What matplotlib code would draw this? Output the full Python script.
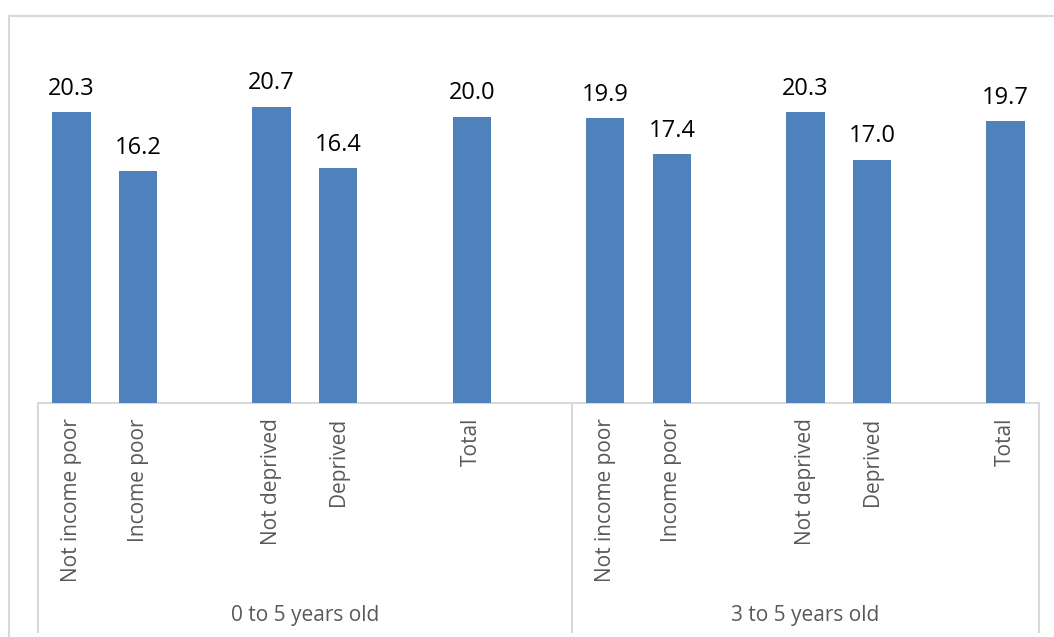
import numpy as np
import matplotlib
matplotlib.use("Agg")
import matplotlib.pyplot as plt
from matplotlib.lines import Line2D
import matplotlib.transforms as mtransforms

plt.rcParams['font.family'] = ['Open Sans', 'DejaVu Sans']

# ---- data ----
group_names = ["0 to 5 years old", "3 to 5 years old"]
group1_categories = ["Not income poor", "Income poor", "", "Not deprived", "Deprived", "", "Total", ""]
group1_values = [20.3, 16.2, np.nan, 20.7, 16.4, np.nan, 20.0, np.nan]
group2_categories = ["Not income poor", "Income poor", "", "Not deprived", "Deprived", "", "Total"]
group2_values = [19.9, 17.4, np.nan, 20.3, 17.0, np.nan, 19.7]

categories = group1_categories + group2_categories
values = group1_values + group2_values
group_sizes = [len(group1_categories), len(group2_categories)]

BAR_COLOR = "#4F81BD"
GRID_COLOR = "#D9D9D9"
TICK_COLOR = "#595959"

W, H = 1054, 637
fig = plt.figure(figsize=(W / 100, H / 100), dpi=100)
ax_left, ax_right, ax_top, ax_bottom = 38, 1039, 16, 403
ax = fig.add_axes([ax_left / W, 1 - ax_bottom / H, (ax_right - ax_left) / W, (ax_bottom - ax_top) / H])

x = np.arange(len(categories))
vals = np.array(values, dtype=float)
mask = ~np.isnan(vals)
bars = ax.bar(x[mask], vals[mask], width=0.575, color=BAR_COLOR, zorder=3)

px_per_unit = 14.32
ax.set_ylim(0, (ax_bottom - ax_top) / px_per_unit)
ax.set_xlim(-0.5, len(categories) - 0.5)

for xi, v in zip(x[mask], vals[mask]):
    ax.annotate(f"{v:.1f}", (xi, v), xytext=(0, 8), textcoords="offset points",
                ha="center", va="bottom", fontsize=17, color="#000000")

for s in ["top", "right", "left"]:
    ax.spines[s].set_visible(False)
ax.spines["bottom"].set_color(GRID_COLOR)
ax.spines["bottom"].set_linewidth(1.5)
ax.set_yticks([])
ax.set_xticks([])

# category labels
trans_x = mtransforms.blended_transform_factory(ax.transData, ax.transAxes)
axes_h_px = ax_bottom - ax_top
def frac(px_below):
    return -px_below / axes_h_px

for xi, c in zip(x, categories):
    if c:
        ax.text(xi, frac(15), c, transform=trans_x, rotation=90, ha="center", va="top",
                fontsize=15, color=TICK_COLOR)

# group separators and labels
bounds = np.concatenate([[0], np.cumsum(group_sizes)]) - 0.5
for b in bounds:
    ax.add_line(Line2D([b, b], [0, frac(229)], transform=trans_x, color=GRID_COLOR,
                       linewidth=1.5, clip_on=False))
for i, g in enumerate(group_names):
    center = (bounds[i] + bounds[i + 1]) / 2
    ax.text(center, frac(213), g, transform=trans_x, ha="center", va="center",
            fontsize=15, color=TICK_COLOR)

# outer chart border (partially visible)
fig.add_artist(Line2D([9 / W, 9 / W], [0, 1 - 16 / H], transform=fig.transFigure,
                      color=GRID_COLOR, linewidth=1.5))
fig.add_artist(Line2D([9 / W, 1.0], [1 - 16 / H, 1 - 16 / H], transform=fig.transFigure,
                      color=GRID_COLOR, linewidth=1.5))

fig.savefig("out.png", dpi=100, facecolor="white")
